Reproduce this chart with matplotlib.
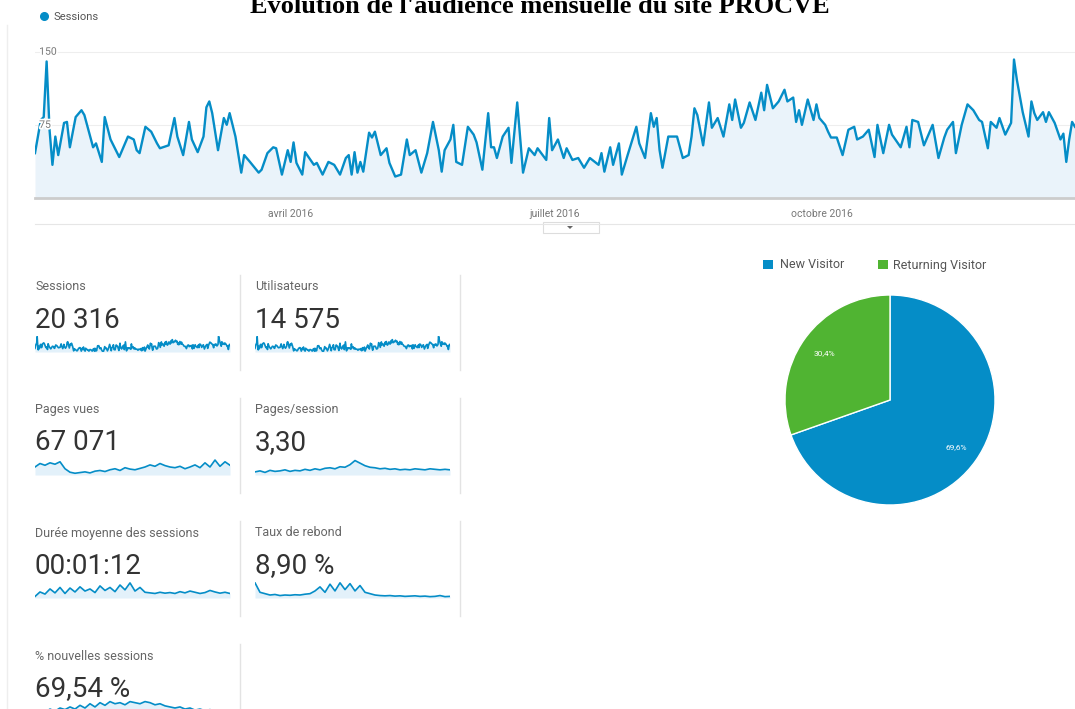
import numpy as np
import pandas as pd
import matplotlib.pyplot as plt
import matplotlib.patheffects as pe
from matplotlib.patches import Rectangle, Polygon

W, H = 1075, 709
BLUE = '#058dc7'
GREEN = '#50b432'

TITLE = "Evolution de l'audience mensuelle du site PROCVE"

# jours depuis le 1er janvier 2016 / sessions
DAYS = [3, 5, 6, 7, 8, 9, 10, 11, 13, 14, 15, 17, 19, 20, 23, 24, 26, 27, 29, 32,
        35, 37, 38, 39, 41, 43, 45, 46, 49, 51, 52, 54, 56, 57, 59, 61, 62, 63, 64, 66,
        68, 69, 70, 72, 74, 75, 77, 80, 81, 83, 85, 86, 88, 90, 91, 92, 93, 95, 96, 99,
        100, 102, 104, 106, 108, 110, 111, 112, 113, 114, 115, 116, 118, 119, 120, 122, 124, 125, 127, 129,
        131, 132, 134, 136, 138, 140, 142, 143, 144, 146, 147, 148, 150, 152, 154, 155, 157, 159, 160, 161,
        162, 164, 166, 167, 169, 171, 173, 175, 176, 179, 180, 181, 183, 185, 186, 188, 190, 192, 194, 197,
        198, 199, 201, 202, 204, 205, 207, 210, 211, 213, 215, 216, 217, 218, 219, 221, 223, 224, 226, 228,
        229, 230, 231, 233, 235, 236, 238, 240, 242, 243, 244, 246, 247, 249, 251, 253, 254, 255, 257, 259,
        261, 262, 264, 265, 266, 267, 269, 271, 272, 273, 275, 276, 277, 279, 281, 283, 285, 286, 288, 290,
        292, 293, 295, 297, 298, 301, 303, 304, 305, 307, 309, 312, 314, 316, 317, 319, 320, 322, 324, 326,
        328, 329, 331, 332, 334, 335, 337, 339, 340, 341, 343, 345, 346, 347, 348, 350, 351, 352, 354, 356,
        357, 358, 359, 360, 361]
SESSIONS = [46, 80, 83, 140, 70, 34, 63, 44, 77, 78, 52, 83, 90, 85, 52, 56, 37, 83, 60, 42,
            63, 60, 49, 46, 73, 68, 56, 51, 54, 82, 63, 44, 78, 60, 47, 63, 93, 99, 87, 49,
            82, 75, 87, 63, 26, 44, 37, 26, 29, 46, 52, 51, 24, 49, 37, 57, 36, 24, 47, 34,
            36, 24, 37, 34, 24, 41, 44, 24, 47, 26, 37, 27, 67, 62, 68, 44, 51, 36, 22, 24,
            60, 44, 49, 26, 46, 78, 49, 27, 49, 60, 75, 37, 34, 73, 65, 57, 29, 87, 52, 52,
            41, 63, 72, 36, 98, 26, 51, 44, 51, 39, 82, 49, 60, 41, 51, 39, 41, 31, 41, 34,
            46, 27, 52, 34, 56, 24, 44, 73, 56, 41, 87, 73, 82, 49, 31, 63, 63, 63, 41, 44,
            63, 92, 85, 54, 98, 72, 82, 63, 96, 80, 101, 72, 77, 98, 80, 108, 90, 116, 92, 99,
            111, 99, 103, 78, 90, 75, 101, 80, 96, 82, 75, 68, 62, 62, 44, 70, 73, 60, 63, 70,
            42, 75, 46, 75, 65, 52, 73, 52, 80, 78, 54, 75, 41, 62, 70, 78, 46, 75, 96, 90,
            80, 78, 51, 78, 72, 82, 65, 77, 142, 121, 88, 63, 99, 87, 80, 88, 78, 88, 77, 60,
            66, 37, 60, 78, 73]

MONTH_TICKS = ['2016-04-01', '2016-07-01', '2016-10-01']
MONTH_LABELS = ['avril 2016', 'juillet 2016', 'octobre 2016']
Y_TICKS = [75, 150]

METRIC_NAMES = ['Sessions', 'Utilisateurs', 'Pages vues', 'Pages/session',
                'Durée moyenne des sessions', 'Taux de rebond', '% nouvelles sessions']
METRIC_VALUES = ['20 316', '14 575', '67 071', '3,30', '00:01:12', '8,90 %', '69,54 %']

# mini-courbes des cartes (valeurs relatives)
PAGES_VUES_TREND = [60, 70, 65, 72, 68, 75, 55, 45, 42, 44, 46, 43, 48, 50, 47, 52, 55, 50, 58, 54,
                    52, 56, 60, 66, 62, 70, 64, 60, 58, 62, 55, 60, 66, 58, 72, 60, 80, 62, 75, 65]
PAGES_SESSION_TREND = [38, 40, 37, 41, 39, 40, 42, 39, 41, 40, 43, 41, 44, 42, 45, 46, 44, 48, 47, 52,
                       60, 55, 50, 47, 46, 44, 45, 43, 44, 42, 43, 42, 44, 43, 42, 44, 43, 42, 43, 42]
DUREE_TREND = [30, 45, 38, 55, 42, 60, 40, 58, 45, 62, 48, 55, 43, 65, 50, 60, 46, 68, 52, 75,
               48, 60, 44, 42, 40, 44, 41, 43, 40, 46, 42, 48, 44, 40, 43, 50, 45, 41, 44, 40]
REBOND_TREND = [75, 40, 35, 30, 32, 28, 30, 29, 31, 30, 33, 35, 45, 60, 40, 70, 45, 75, 50, 72,
                45, 65, 40, 35, 30, 28, 27, 28, 26, 27, 25, 26, 27, 25, 26, 24, 25, 28, 24, 25]
NOUVELLES_TREND = [50, 55, 52, 58, 54, 60, 57, 62, 58, 65, 60, 68, 62, 70, 65, 72, 68, 70, 66, 72,
                   70, 68, 72, 70, 66, 68, 64, 62, 60, 62, 58, 60, 56, 58, 55, 57, 54, 56, 53, 55]

PIE_LABELS = ['New Visitor', 'Returning Visitor']
PIE_SHARES = [69.6, 30.4]

plt.rcParams['font.family'] = ['Roboto', 'DejaVu Sans']

fig = plt.figure(figsize=(W / 100, H / 100), dpi=100)
fig.patch.set_facecolor('white')


def px_axes(x0, y0, x1, y1):
    ax = fig.add_axes([x0 / W, 1 - y1 / H, (x1 - x0) / W, (y1 - y0) / H])
    ax.set_facecolor('none')
    return ax


# calque en pixels pour les décorations
deco = fig.add_axes([0, 0, 1, 1], zorder=0)
deco.set_xlim(0, W)
deco.set_ylim(H, 0)
deco.axis('off')

deco.text(540, 13, TITLE, ha='center', va='baseline', fontfamily='Liberation Serif',
          fontweight='bold', fontsize=19, color='black')
deco.plot([7, 7], [25, H], color='#eeeeee', lw=1)
deco.plot([44], [16], 'o', color=BLUE, ms=5.5)
deco.text(53, 17, 'Sessions', va='center', fontsize=8, color='#555555')
deco.plot([35, W], [224, 224], color='#e6e6e6', lw=0.8)
deco.add_patch(Rectangle((543, 222), 56, 11, fc='white', ec='#dddddd', lw=0.8))
deco.add_patch(Polygon([[567, 226], [573, 226], [570, 229]], fc='#666666', ec='none'))

# graphique principal
ax = px_axes(35, 40, W, 198)
dates = pd.Timestamp('2016-01-01') + pd.to_timedelta(DAYS, unit='D')
ax.fill_between(dates, SESSIONS, color='#eaf3fa', lw=0)
ax.plot(dates, SESSIONS, color=BLUE, lw=1.7, zorder=3)
ax.set_xlim(dates[0], pd.Timestamp('2016-01-01') + pd.Timedelta(days=361))
ax.set_ylim(0, 162)
for v in Y_TICKS:
    ax.axhline(v, color='#eeeeee', lw=0.8, zorder=0)
    ax.text(0.004, v, str(v), transform=ax.get_yaxis_transform(), va='center', ha='left',
            fontsize=7.5, color='#777777', zorder=4,
            path_effects=[pe.withStroke(linewidth=2.5, foreground='white')])
ax.set_xticks(pd.to_datetime(MONTH_TICKS))
ax.set_xticklabels(MONTH_LABELS)
ax.set_yticks([])
ax.tick_params(axis='x', length=0, pad=8, labelsize=7.5, labelcolor='#777777')
for side in ['top', 'left', 'right']:
    ax.spines[side].set_visible(False)
ax.spines['bottom'].set_color('#cccccc')
ax.spines['bottom'].set_linewidth(2)

# cartes de métriques
trends = [SESSIONS, SESSIONS, PAGES_VUES_TREND, PAGES_SESSION_TREND,
          DUREE_TREND, REBOND_TREND, NOUVELLES_TREND]
for i, (name, val) in enumerate(zip(METRIC_NAMES, METRIC_VALUES)):
    col, row = i % 2, i // 2
    x = 35 + col * 220
    dy = row * 123
    deco.text(x, 287 + dy, name, va='center', fontsize=9, color='#666666')
    deco.text(x, 320 + dy, val, va='center', fontsize=20, color='#333333')
    s = trends[i]
    xs = DAYS if s is SESSIONS else np.arange(len(s))
    top = 336 + dy if row < 3 else 700
    sax = px_axes(x, top, x + 195, top + 16)
    sax.fill_between(xs, s, min(s) - 5, color='#e3f1fa', lw=0)
    sax.plot(xs, s, color=BLUE, lw=1.2)
    sax.set_xlim(xs[0], xs[-1])
    sax.set_ylim(min(s) - 5, max(s) + 3)
    sax.axis('off')
    sep_x = 240 + col * 220
    deco.plot([sep_x, sep_x], [275 + dy, min(370 + dy, H)], color='#e3e3e3', lw=1)

# camembert nouveaux / anciens visiteurs
deco.add_patch(Rectangle((763, 260), 10, 9, fc=BLUE, ec='none'))
deco.text(780, 265, PIE_LABELS[0], va='center', fontsize=9, color='#555555')
deco.add_patch(Rectangle((878, 260), 10, 9, fc=GREEN, ec='none'))
deco.text(893, 265, PIE_LABELS[1], va='center', fontsize=9, color='#555555')

pax = px_axes(785, 295, 995, 505)
pax.pie(PIE_SHARES, colors=[BLUE, GREEN], startangle=90, counterclock=False,
        autopct=lambda p: f'{p:.1f}%'.replace('.', ','), pctdistance=0.77,
        wedgeprops=dict(edgecolor='white', linewidth=1),
        textprops=dict(color='white', fontsize=6))
pax.set_xlim(-1, 1)
pax.set_ylim(-1, 1)
pax.set_aspect('equal')

fig.savefig('out.png', dpi=100, facecolor='white')
